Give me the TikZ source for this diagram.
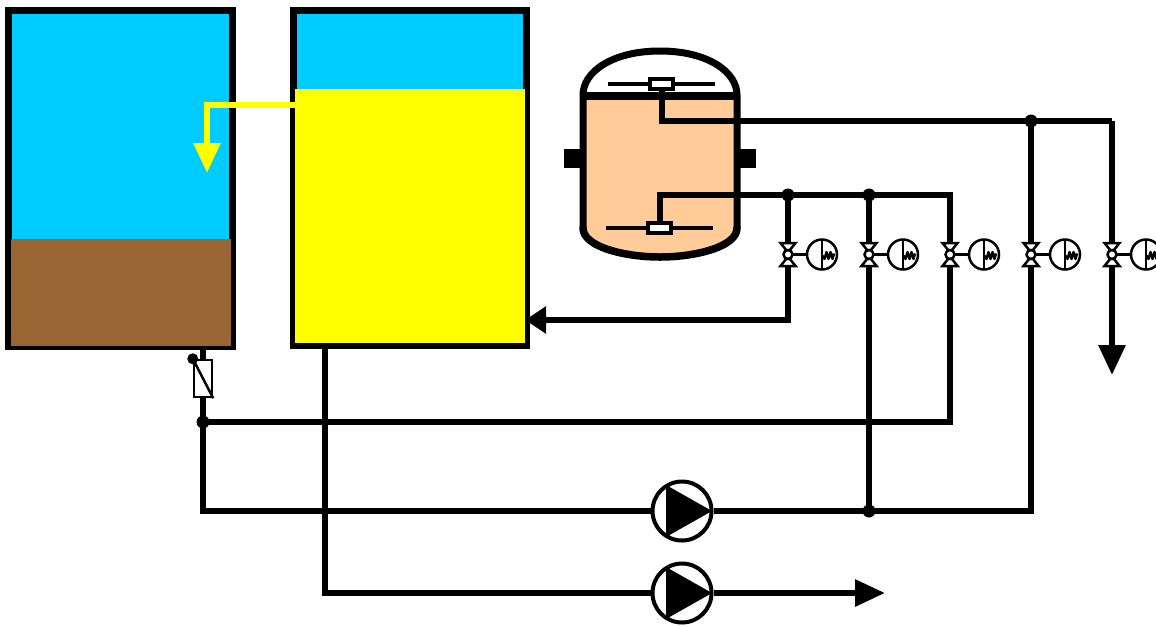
\documentclass[tikz,border=0pt]{standalone}
\usetikzlibrary{arrows.meta,calc}
\definecolor{tankblue}{RGB}{0,204,255}
\definecolor{sludge}{RGB}{153,102,51}
\definecolor{peach}{RGB}{255,204,153}
\definecolor{liqyellow}{RGB}{255,255,0}
\tikzset{
  x=1pt,y=-1pt,
  pipe/.style={line width=6pt,line join=miter,draw=black},
  pipearrow/.style={pipe,-{Triangle[length=30pt,width=26pt]}},
  tankedge/.style={draw=black,line width=7pt,inner sep=0pt},
  dot/.style={circle,fill=black,draw=none,minimum size=13pt,inner sep=0pt},
  pumpbody/.style={circle,draw=black,line width=4pt,fill=white,minimum size=59pt,inner sep=0pt},
  thin symbol/.style={draw=black,line width=2.5pt},
  sparger/.style={draw=black,fill=white,line width=3.5pt,minimum width=23pt,minimum height=10pt,inner sep=0pt},
  lug/.style={fill=black,minimum width=19pt,minimum height=19pt,inner sep=0pt},
  pics/valve/.style={code={
    \coordinate (-c) at (0,0);
    \draw[thin symbol,fill=white,line join=miter] (-7.5,-11.5)--(7.5,-11.5)--(1.5,-4)--(-1.5,-4)--cycle;
    \draw[thin symbol,fill=white,line join=miter] (-7.5,11.5)--(7.5,11.5)--(1.5,4)--(-1.5,4)--cycle;
    \draw[thin symbol] (5,0)--(19,0);
    \draw[thin symbol,fill=white] (0,0) circle (4.5);
    \draw[thin symbol,fill=white] (34,0) circle (15);
    \draw[thin symbol] (34,-15)--(34,15);
    \draw[draw=black,line width=2.4pt,line join=round] (34.5,1)--(36.5,4.5)--(38.5,-2.5)--(40.5,4.5)--(42.5,-2.5)--(44.5,4.5)--(46,-1);
  }}
}
\begin{document}
\begin{tikzpicture}
\useasboundingbox (0,0) rectangle (1156,625);
% tank 1
\fill[tankblue] (8.5,10.5) rectangle (232.5,239);
\node[tankedge,minimum width=224pt,minimum height=336pt] (tankA) at (120.5,178.5) {};
\fill[sludge] (11,239) rectangle (231,345.5);
% tank 2
\fill[tankblue] (294,11) rectangle (526,90);
\node[tankedge,minimum width=233pt,minimum height=335pt] (tankB) at (410,178) {};
\fill[liqyellow] (295,89) rectangle (525,343);
% vessel
\fill[peach] (584,95) -- (736,95) -- (736,228) .. controls (736,248) and (695,257) .. (660,257) .. controls (625,257) and (584,248) .. (584,228) -- cycle;
\node[lug] (lugL) at (573.5,158.5) {};
\node[lug] (lugR) at (746,158.5) {};
\draw[line width=7pt,line join=round,line cap=round] (583,228) -- (583,95) .. controls (583,72) and (612,51) .. (660,51) .. controls (708,51) and (737,72) .. (737,95) -- (737,228);
\draw[line width=7.5pt,line cap=round] (583,228) .. controls (583,247) and (625,257) .. (660,257) .. controls (695,257) and (737,247) .. (737,228);
\draw[line width=7.5pt] (583,96) -- (737,96);
% spargers
\draw[line width=3.5pt] (608,84) -- (715,84);
\node[sparger] (spargerTop) at (661.5,84) {};
\draw[line width=3.5pt] (606,228) -- (713,228);
\node[sparger] (spargerBot) at (659.5,228) {};
% junctions and corners
\coordinate (a1) at (661.5,121);
\coordinate (a2) at (1112,121);
\coordinate (a3) at (1112,375);
\coordinate (b1) at (659.5,195);
\coordinate (b2) at (950,195);
\coordinate (b3) at (950,422);
\coordinate (c1) at (788,320);
\coordinate (d1) at (203,511);
\coordinate (e1) at (325,593);
\coordinate (e2) at (885,593);
\coordinate (f1) at (1031,511);
\node[dot] (j1) at (1031,121) {};
\node[dot] (j2) at (788,195) {};
\node[dot] (j3) at (869,195) {};
\node[dot] (j4) at (869,511) {};
\node[dot] (j5) at (203,422) {};
% pumps
\node[pumpbody] (pump1) at (682,511) {};
\node[pumpbody] (pump2) at (682,593) {};
% pipes
\draw[pipe] (spargerTop.south) -- (a1) -- (a2);
\draw[pipearrow] (a2) -- (a3);
\draw[pipe] (spargerBot.north) -- (b1) -- (b2) -- (b3) -- (j5.center);
\draw[pipe,-{Triangle[length=21pt,width=26pt]},shorten >=-5pt] (j2.center) -- (c1) -- (tankB.east |- c1);
\draw[pipe] (j3.center) -- (j4.center);
\draw[pipe] (j1.center) -- (f1) -- (pump1.east);
\draw[pipe] (tankA.south -| d1) -- (d1) -- (pump1.west);
\draw[pipe] (tankB.south -| e1) -- (e1) -- (pump2.west);
\draw[pipearrow] (pump2.east) -- (e2);
% yellow transfer
\coordinate (y1) at (207,105);
\coordinate (y2) at (207,173);
\draw[line width=6pt,draw=liqyellow,-{Triangle[length=30pt,width=26pt]}] (296,105) -- (y1) -- (y2);
% pump triangles
\fill (666,485) -- (712,511) -- (666,537) -- cycle;
\fill (666,567) -- (712,593) -- (666,619) -- cycle;
% valves
\pic (v1) at (788,254.5) {valve};
\pic (v2) at (869,254.5) {valve};
\pic (v3) at (950,254.5) {valve};
\pic (v4) at (1031,254.5) {valve};
\pic (v5) at (1112,254.5) {valve};
% check valve / filter
\node[draw=black,fill=white,line width=2.5pt,minimum width=18pt,minimum height=37pt,inner sep=0pt] (filter) at (203,378.5) {};
\draw[line width=2.5pt] (filter.north west) -- (filter.south east);
\node[circle,fill=black,minimum size=11pt,inner sep=0pt] (hinge) at (filter.north west) {};
\end{tikzpicture}
\end{document}
